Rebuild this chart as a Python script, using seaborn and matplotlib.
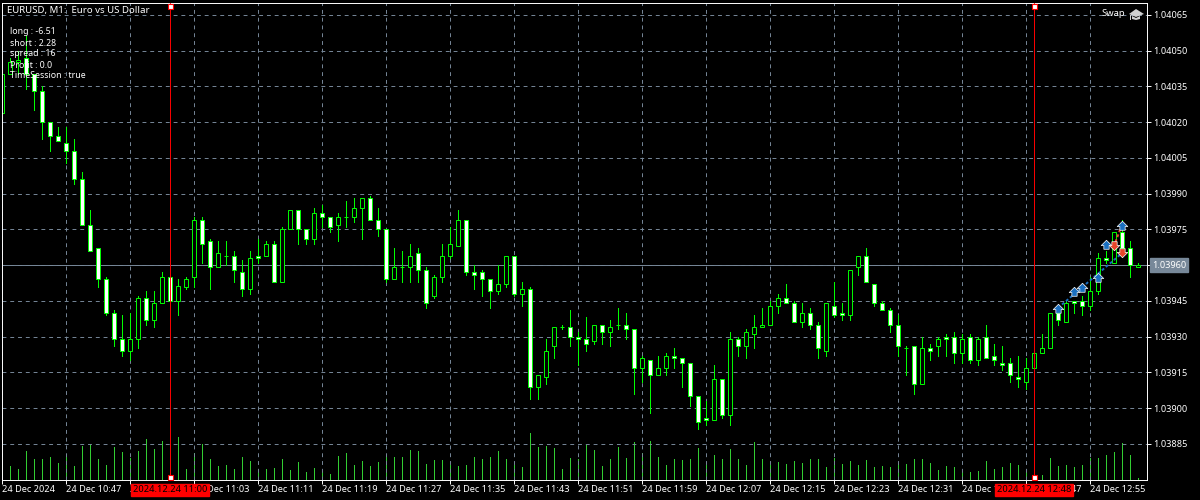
import matplotlib
matplotlib.use('Agg')
import matplotlib.pyplot as plt
from matplotlib.patches import Polygon
from matplotlib.path import Path
import seaborn as sns
import pandas as pd

# EURUSD M1 candles
opens = [1.04024,1.04040,1.04045,1.04047,1.04040,1.04033,1.04020,1.04014,1.04011,1.04008,
         1.03996,1.03977,1.03967,1.03954,1.03940,1.03929,1.03924,1.03929,1.03946,1.03937,
         1.03944,1.03955,1.03945,1.03951,1.03955,1.03979,1.03970,1.03959,1.03964,1.03964,
         1.03957,1.03950,1.03964,1.03964,1.03969,1.03953,1.03975,1.03983,1.03975,1.03971,
         1.03982,1.03980,1.03977,1.03980,1.03980,1.03984,1.03988,1.03979,1.03975,1.03954,
         1.03959,1.03959,1.03965,1.03958,1.03947,1.03955,1.03964,1.03968,1.03979,1.03957,
         1.03957,1.03954,1.03949,1.03952,1.03964,1.03948,1.03950,1.03909,1.03913,1.03926,
         1.03934,1.03934,1.03930,1.03929,1.03928,1.03935,1.03932,1.03935,1.03935,1.03933,
         1.03917,1.03920,1.03914,1.03917,1.03922,1.03921,1.03919,1.03905,1.03896,1.03895,
         1.03912,1.03897,1.03929,1.03926,1.03931,1.03934,1.03935,1.03943,1.03946,1.03944,
         1.03936,1.03940,1.03935,1.03924,1.03943,1.03940,1.03939,1.03959,1.03964,1.03952,
         1.03944,1.03941,1.03935,1.03925,1.03926,1.03910,1.03925,1.03926,1.03930,1.03930,
         1.03923,1.03930,1.03920,1.03930,1.03922,1.03919,1.03919,1.03913,1.03911,1.03917,
         1.03923,1.03925,1.03940,1.03936,1.03945,1.03945,1.03943,1.03949,1.03963,1.03961,
         1.03974,1.03967,1.03959]
closes = [1.04040,1.04045,1.04046,1.04040,1.04033,1.04020,1.04014,1.04012,1.04008,1.03996,
          1.03977,1.03966,1.03954,1.03940,1.03929,1.03924,1.03929,1.03946,1.03937,1.03944,
          1.03955,1.03945,1.03951,1.03954,1.03979,1.03969,1.03959,1.03965,1.03964,1.03958,
          1.03950,1.03963,1.03963,1.03969,1.03953,1.03975,1.03983,1.03975,1.03971,1.03982,
          1.03980,1.03976,1.03980,1.03980,1.03984,1.03988,1.03979,1.03975,1.03954,1.03959,
          1.03959,1.03964,1.03958,1.03944,1.03955,1.03964,1.03969,1.03979,1.03957,1.03956,
          1.03954,1.03949,1.03952,1.03964,1.03948,1.03950,1.03909,1.03914,1.03924,1.03934,
          1.03934,1.03930,1.03929,1.03927,1.03935,1.03932,1.03934,1.03935,1.03933,1.03917,
          1.03921,1.03914,1.03917,1.03922,1.03921,1.03919,1.03905,1.03894,1.03895,1.03912,
          1.03897,1.03929,1.03926,1.03932,1.03934,1.03935,1.03943,1.03946,1.03944,1.03936,
          1.03940,1.03935,1.03925,1.03944,1.03939,1.03939,1.03958,1.03964,1.03953,1.03944,
          1.03941,1.03935,1.03926,1.03925,1.03910,1.03925,1.03924,1.03929,1.03929,1.03923,
          1.03929,1.03920,1.03929,1.03921,1.03920,1.03918,1.03914,1.03912,1.03917,1.03923,
          1.03925,1.03940,1.03937,1.03944,1.03944,1.03943,1.03949,1.03963,1.03962,1.03974,
          1.03967,1.03960,1.03960]
highs = [1.04040,1.04047,1.04050,1.04056,1.04040,1.04035,1.04020,1.04018,1.04018,1.04013,
         1.03999,1.03983,1.03967,1.03955,1.03941,1.03939,1.03940,1.03947,1.03949,1.03949,
         1.03957,1.03956,1.03954,1.03955,1.03980,1.03980,1.03971,1.03970,1.03970,1.03966,
         1.03962,1.03966,1.03971,1.03970,1.03970,1.03976,1.03983,1.03983,1.03975,1.03984,
         1.03985,1.03980,1.03982,1.03987,1.03988,1.03988,1.03989,1.03984,1.03975,1.03967,
         1.03966,1.03969,1.03967,1.03959,1.03956,1.03969,1.03976,1.03983,1.03979,1.03960,
         1.03958,1.03954,1.03960,1.03964,1.03964,1.03953,1.03951,1.03914,1.03929,1.03934,
         1.03935,1.03941,1.03932,1.03938,1.03935,1.03935,1.03937,1.03942,1.03940,1.03933,
         1.03922,1.03920,1.03922,1.03923,1.03925,1.03921,1.03919,1.03905,1.03903,1.03918,
         1.03912,1.03932,1.03930,1.03933,1.03939,1.03942,1.03945,1.03948,1.03952,1.03945,
         1.03944,1.03942,1.03936,1.03944,1.03953,1.03944,1.03958,1.03964,1.03967,1.03952,
         1.03945,1.03942,1.03939,1.03926,1.03926,1.03930,1.03927,1.03930,1.03931,1.03932,
         1.03931,1.03931,1.03930,1.03935,1.03927,1.03926,1.03921,1.03922,1.03921,1.03924,
         1.03931,1.03940,1.03940,1.03945,1.03945,1.03947,1.03955,1.03965,1.03966,1.03974,
         1.03979,1.03970,1.03961]
lows = [1.04024,1.04040,1.04040,1.04034,1.04025,1.04013,1.04008,1.04012,1.04003,1.03994,
        1.03977,1.03966,1.03951,1.03939,1.03926,1.03922,1.03920,1.03925,1.03935,1.03934,
        1.03944,1.03945,1.03939,1.03950,1.03951,1.03961,1.03950,1.03959,1.03960,1.03953,
        1.03947,1.03948,1.03961,1.03964,1.03953,1.03953,1.03975,1.03969,1.03969,1.03969,
        1.03976,1.03974,1.03970,1.03976,1.03978,1.03971,1.03979,1.03972,1.03953,1.03954,
        1.03953,1.03953,1.03953,1.03942,1.03946,1.03953,1.03963,1.03968,1.03956,1.03950,
        1.03947,1.03942,1.03948,1.03951,1.03947,1.03943,1.03904,1.03904,1.03910,1.03921,
        1.03933,1.03926,1.03918,1.03924,1.03927,1.03927,1.03926,1.03933,1.03929,1.03906,
        1.03911,1.03898,1.03914,1.03914,1.03917,1.03909,1.03901,1.03891,1.03893,1.03895,
        1.03896,1.03893,1.03922,1.03921,1.03925,1.03934,1.03935,1.03940,1.03944,1.03936,
        1.03934,1.03933,1.03921,1.03922,1.03938,1.03937,1.03937,1.03956,1.03953,1.03943,
        1.03941,1.03932,1.03922,1.03914,1.03906,1.03910,1.03920,1.03922,1.03922,1.03919,
        1.03919,1.03919,1.03918,1.03921,1.03918,1.03916,1.03911,1.03909,1.03908,1.03917,
        1.03923,1.03925,1.03935,1.03936,1.03940,1.03939,1.03941,1.03948,1.03961,1.03961,
        1.03967,1.03955,1.03959]
volumes = [60,
           43,34,88,64,64,70,52,79,43,103,108,64,46,100,85,67,88,124,94,118,108,130,34,82,108,
           64,43,46,34,70,58,31,34,37,64,31,55,25,37,28,19,73,82,46,58,43,55,76,70,
           70,91,88,49,61,61,46,43,46,70,64,70,88,64,46,40,142,100,103,97,34,67,64,106,91,
           43,64,100,67,115,82,118,70,46,64,61,64,97,46,76,64,94,64,46,115,64,46,55,49,58,
           52,64,64,40,67,49,58,46,61,40,43,40,52,49,64,64,52,31,43,40,28,25,28,58,34,40,
           52,46,28,16,16,67,43,46,40,46,67,67,76,85,112,76,7]

price_ticks = [1.04065,1.04050,1.04035,1.04020,1.04005,1.03990,1.03975,1.03960,
               1.03945,1.03930,1.03915,1.03900,1.03885]
time_labels = ['24 Dec 2024','24 Dec 10:47','24 Dec 10:55','24 Dec 11:03','24 Dec 11:11',
               '24 Dec 11:19','24 Dec 11:27','24 Dec 11:35','24 Dec 11:43','24 Dec 11:51',
               '24 Dec 11:59','24 Dec 12:07','24 Dec 12:15','24 Dec 12:23','24 Dec 12:31',
               '24 Dec 12:39','24 Dec 12:47','24 Dec 12:55']
last_price = 1.03960
session_bars = [21, 129]
session_labels = ['2024.12.24 11:00', '2024.12.24 12:48']
info_lines = ['long : -6.51', 'short : 2.28', 'spread : 16', 'Profit : 0.0', 'TimeSession : true']

buy_bars = [132, 134, 135, 137, 138, 140]
buy_prices = [1.03942, 1.03949, 1.03951, 1.03955, 1.03969, 1.03977]
sell_bars = [139, 140]
sell_prices = [1.03968, 1.03965]

W, H = 1200, 500
# frame edges picked so that 1 px lines snap onto the same pixel rows as the terminal
LEFT, RIGHT, TOP, BOTTOM = 2.0, 1147.0, 3.0, 480.0
LW = 0.7
GREEN = '#00ff00'
GRID = '#778899'
BLUE = '#1a6fc0'
ORANGE = '#e8452a'

bars = list(range(len(opens)))

sns.set_theme(style='dark', rc={'axes.facecolor': 'black', 'figure.facecolor': 'black'})
plt.rcParams['font.family'] = ['Noto Sans', 'DejaVu Sans']

fig = plt.figure(figsize=(W/100, H/100), dpi=100)
pos = [LEFT/W, 1 - BOTTOM/H, (RIGHT-LEFT)/W, (BOTTOM-TOP)/H]

# volumes sit in their own axes under the price axes
ax_vol = fig.add_axes(pos, zorder=1)
ax = fig.add_axes(pos, zorder=2)
ax.patch.set_alpha(0)

sns.barplot(x=bars, y=volumes, native_scale=True, width=0.125, color='#32cd32', saturation=1,
            linewidth=0, ax=ax_vol)
xlim = (0, (RIGHT-LEFT)/8)
ax_vol.set_xlim(xlim)
ax_vol.set_ylim(0, (BOTTOM-TOP)*3)
ax_vol.axis('off')
for p in ax_vol.patches:
    p.set_antialiased(False)

# price scale: 1.04065 sits at y=14.8 px and 15 points take 35.75 px
pp = 0.00015/35.75
ax.set_xlim(xlim)
ax.set_ylim(1.04065 - (BOTTOM-14.8)*pp, 1.04065 + (14.8-TOP)*pp)

ax.set_axisbelow(True)
ax.set_xticks(bars[::8][:len(time_labels)])
ax.set_xticklabels(time_labels, ha='left')
ax.set_yticks(price_ticks)
ax.set_yticklabels(['' if p == last_price else f'{p:.5f}' for p in price_ticks])
ax.yaxis.tick_right()
ax.tick_params(axis='both', colors='white', labelcolor='white', labelsize=6.6, length=2.9, width=LW,
               right=True, bottom=True)
ax.tick_params(axis='x', pad=0.8)
ax.tick_params(axis='y', pad=1.5)
ax.grid(True, color=GRID, lw=LW, linestyle=(0, (4, 4)))
for s in ax.spines.values():
    s.set_color('white')
    s.set_linewidth(LW)
    s.set_zorder(6)

# current price line
ax.axhline(last_price, color=GRID, lw=LW, zorder=1)

# wicks
wicks = pd.DataFrame({'bar': bars + bars, 'price': lows + highs})
sns.lineplot(data=wicks, x='bar', y='price', units='bar', estimator=None, color=GREEN, lw=LW,
             antialiased=False, ax=ax, zorder=2, legend=False)
ax.set_xlabel('')
ax.set_ylabel('')
ax.set_xlim(xlim)

# candle bodies, white is a falling minute
body_low = [min(o, c) for o, c in zip(opens, closes)]
body_h = [abs(c - o) for o, c in zip(opens, closes)]
face = ['white' if c < o else 'black' for o, c in zip(opens, closes)]
ax.bar(bars, body_h, bottom=body_low, width=0.5, color=face, edgecolor=GREEN, linewidth=LW, zorder=3)

# trades
ax.plot([buy_bars[0], sell_bars[1]], [buy_prices[0], sell_prices[1]], color=BLUE, lw=1.4,
        linestyle=(0, (1.5, 1.2)), zorder=4)
ax.plot([buy_bars[-1], sell_bars[0]], [buy_prices[-1], sell_prices[0]], color=ORANGE, lw=1.4,
        linestyle=(0, (1.5, 1.2)), zorder=4)
up = Path([(0, 0.8), (1, -0.2), (0.5, -0.2), (0.5, -0.9), (-0.5, -0.9), (-0.5, -0.2), (-1, -0.2), (0, 0.8)], closed=True)
down = Path([(0, -0.8), (1, 0.2), (0.5, 0.2), (0.5, 0.9), (-0.5, 0.9), (-0.5, 0.2), (-1, 0.2), (0, -0.8)], closed=True)
ax.scatter(buy_bars, buy_prices, marker=up, s=58, color=BLUE, edgecolor='white', linewidth=0.5, zorder=5)
ax.scatter(sell_bars, sell_prices, marker=down, s=58, color=ORANGE, edgecolor='white', linewidth=0.5, zorder=5)

# session lines with their handles and time labels
xt = ax.get_xaxis_transform()
for b, lab in zip(session_bars, session_labels):
    ax.axvline(b, color='red', lw=LW, zorder=7)
    ax.plot([b, b], [0.994, 0.0065], ls='', marker='s', ms=3.6, mfc='white', mec='red', mew=0.8,
            transform=xt, clip_on=False, zorder=8)
    ax.text(b, -0.0205, lab, transform=xt, ha='center', va='center', fontsize=6.7, color='black',
            bbox=dict(facecolor='red', edgecolor='red', boxstyle='square,pad=0.18'), zorder=9)

# last price tag
ax.annotate(f'{last_price:.5f}', xy=(1, last_price), xycoords=ax.get_yaxis_transform(), xytext=(3.6, 0),
            textcoords='offset points', ha='left', va='center', fontsize=6.6, color='white',
            bbox=dict(facecolor=GRID, edgecolor=GRID, boxstyle='square,pad=0.25'), annotation_clip=False, zorder=9)

# overlay texts
def px(x, y):
    return x/W, 1 - y/H

fig.text(*px(7, 10), 'EURUSD, M1:  Euro vs US Dollar', color='white', fontsize=6.95, va='center', zorder=10)
for k, line in enumerate(info_lines):
    fig.text(*px(10, 32 + 11*k), line, color='white', fontsize=6.3, va='center', zorder=10)
fig.text(*px(1101, 14), 'Swap', color='white', fontsize=6.8, va='center', zorder=10)

# graduation cap next to Swap
cap = '#d0d0d0'
fig.add_artist(Polygon([px(1129, 14), px(1136, 9), px(1144, 14), px(1136, 17)], closed=True, color=cap, lw=0, zorder=10))
fig.add_artist(Polygon([px(1132, 16), px(1136, 18), px(1140, 16), px(1140, 19), px(1136, 20), px(1132, 19)],
                       closed=True, color=cap, lw=0, zorder=10))
fig.add_artist(Polygon([px(1130, 15), px(1131, 15), px(1131, 20), px(1130, 20)], closed=True, color=cap, lw=0, zorder=10))

fig.savefig('out.png', dpi=100, facecolor='black')
